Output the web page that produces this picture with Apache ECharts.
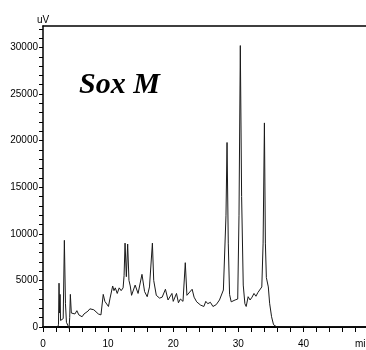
<!DOCTYPE html>
<html>
<head>
<meta charset="utf-8">
<script src="https://cdn.jsdelivr.net/npm/echarts@6/dist/echarts.min.js"></script>
<style>html,body{margin:0;padding:0;background:#fff;}#c{width:366px;height:350px;}</style>
</head>
<body>
<div id="c"></div>
<script>
// Retention time (min)
var times = [0, 2.3, 2.38, 2.46, 2.55, 2.62, 2.7, 2.9, 3.1, 3.28, 3.45, 3.6, 3.8, 4.0, 4.1, 4.2, 4.35, 4.6, 4.9, 5.2, 5.5, 5.8, 6.0, 6.3, 6.6, 6.9, 7.2, 7.5, 7.8, 8.1, 8.5, 8.9, 9.1, 9.25, 9.5, 9.8, 10.05, 10.3, 10.7, 10.9, 11.1, 11.4, 11.7, 12.0, 12.3, 12.45, 12.6, 12.8, 13.0, 13.2, 13.4, 13.6, 14.15, 14.6, 14.9, 15.2, 15.6, 16.0, 16.35, 16.55, 16.8, 17.0, 17.4, 17.9, 18.3, 18.8, 19.2, 19.5, 19.8, 20.0, 20.5, 20.8, 21.1, 21.5, 21.85, 22.1, 22.4, 22.9, 23.2, 23.6, 24.2, 24.7, 25.0, 25.3, 25.7, 26.1, 26.6, 27.1, 27.4, 27.7, 27.9, 28.1, 28.26, 28.45, 28.65, 28.9, 29.2, 29.5, 29.7, 29.9, 30.1, 30.3, 30.5, 30.75, 31.0, 31.2, 31.5, 31.8, 32.1, 32.4, 32.7, 33.0, 33.3, 33.6, 33.8, 34.0, 34.15, 34.3, 34.6, 34.8, 35.1, 35.4, 35.9, 40, 49.6];
// Detector signal (uV)
var signal = [0, 0, 300, 4700, 1500, 3500, 700, 500, 900, 9300, 2500, 500, 200, -150, 1000, 3500, 1500, 1300, 1400, 1750, 1300, 1500, 1100, 1400, 1300, 1700, 1950, 1800, 1850, 1650, 1400, 1300, 1100, 3500, 2750, 2550, 2200, 3100, 4400, 3900, 4200, 3600, 4200, 3900, 4200, 5500, 9000, 5400, 8900, 5000, 4400, 3400, 4500, 3600, 3700, 5650, 3800, 3250, 4300, 4100, 9000, 5000, 3400, 3100, 3200, 4050, 2900, 3100, 3600, 2750, 3600, 2600, 3000, 2750, 6900, 3400, 3300, 4050, 3200, 2700, 2350, 2200, 2750, 2500, 2650, 2200, 2400, 2900, 2700, 3970, 4000, 12000, 19800, 9000, 3500, 2700, 2550, 2900, 2700, 3000, 12000, 30200, 14000, 4500, 2500, 2200, 3250, 2900, 3200, 3600, 3300, 3700, 3500, 4300, 9000, 21900, 9000, 5300, 4300, 2550, 1100, 250, 0, 60, 0];

var xTickLabels = [0, 10, 20, 30, 40];
var yTickLabels = [0, 5000, 10000, 15000, 20000, 25000, 30000];
var title = 'Sox M';
var xName = 'min';
var yName = 'uV';

var pairs = times.map(function (t, i) { return [t, signal[i]]; });
var narrow = "'Liberation Sans Narrow', 'Liberation Sans', Arial, sans-serif";

var chart = echarts.init(document.getElementById('c'), null, {renderer: 'canvas'});
chart.setOption({
  animation: false,
  backgroundColor: '#fff',
  grid: {left: 43, right: 0, top: 26, bottom: 23, containLabel: false, outerBoundsMode: 'none'},
  xAxis: [{
    type: 'value', min: 0, max: 49.6, interval: 2,
    axisLine: {show: true, onZero: false, lineStyle: {color: '#000', width: 2}},
    axisTick: {show: true, inside: false, length: 5, lineStyle: {color: '#000', width: 1}},
    axisLabel: {
      color: '#000', fontFamily: narrow, fontSize: 10, margin: 12,
      showMaxLabel: false,
      formatter: function (v) { return xTickLabels.indexOf(Math.round(v * 100) / 100) >= 0 ? String(v) : ''; }
    },
    splitLine: {show: false}
  }, {
    type: 'value', position: 'top', min: 0, max: 49.6,
    axisLine: {show: true, onZero: false, lineStyle: {color: '#000', width: 1.5}},
    axisTick: {show: false}, axisLabel: {show: false}, splitLine: {show: false}
  }],
  yAxis: {
    type: 'value', min: 0, max: 32300, interval: 1000,
    name: yName, nameLocation: 'end', nameGap: 1,
    nameTextStyle: {color: '#000', fontFamily: narrow, fontSize: 10, align: 'center'},
    axisLine: {show: true, onZero: false, lineStyle: {color: '#000', width: 1.5}},
    axisTick: {show: true, inside: false, length: 4, lineStyle: {color: '#000', width: 1}},
    axisLabel: {
      color: '#000', fontFamily: narrow, fontSize: 10, margin: 5,
      showMaxLabel: false,
      formatter: function (v) { return yTickLabels.indexOf(v) >= 0 ? String(v) : ''; }
    },
    splitLine: {show: false}
  },
  graphic: [{
    type: 'text', left: 79, top: 70,
    style: {text: title, font: 'bold italic 30px "Liberation Serif", "Times New Roman", serif', fill: '#000'}
  }, {
    type: 'text', left: 355, top: 339,
    style: {text: xName, font: '10px "Liberation Sans Narrow", "Liberation Sans", Arial, sans-serif', fill: '#000'}
  }],
  series: [{
    type: 'line', xAxisIndex: 0, data: pairs, showSymbol: false, smooth: false, clip: false,
    lineStyle: {color: '#1a1a1a', width: 1}
  }]
});
</script>
</body>
</html>
